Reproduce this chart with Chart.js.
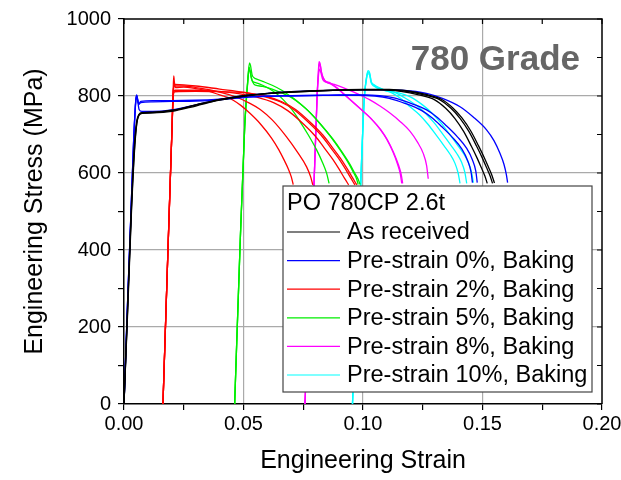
<!DOCTYPE html>
<html>
<head>
<meta charset="utf-8">
<script src="https://cdn.jsdelivr.net/npm/chart.js@4/dist/chart.umd.min.js"></script>
<style>
  body { margin: 0; background: #fff; }
  #wrap { width: 621px; height: 480px; }
</style>
</head>
<body>
<div id="wrap"><canvas id="chart-stress" width="621" height="480"></canvas></div>
<script>
// axis ranges
const strainMin = 0, strainMax = 0.2, strainStep = 0.025;
const stressMin = 0, stressMax = 1000, stressStep = 100;

const legendTitle = 'PO 780CP 2.6t';
const gradeLabel = '780 Grade';
const seriesNames = [
  'As received',
  'Pre-strain 0%, Baking',
  'Pre-strain 2%, Baking',
  'Pre-strain 5%, Baking',
  'Pre-strain 8%, Baking',
  'Pre-strain 10%, Baking'
];

// [strain, stress MPa]
const asReceived1 = [[0,0],[0.0015,250],[0.003,500],[0.0042,660],[0.0052,730],[0.0062,752],[0.0075,757],[0.012,757],[0.02,762],[0.03,776],[0.04,790],[0.05,800],[0.06,806],[0.07,810],[0.08,813],[0.09,815],[0.10,816],[0.108,816],[0.1158,812],[0.1233,803],[0.13,790],[0.1346,768],[0.1384,742],[0.1421,708],[0.1453,670],[0.1478,638],[0.1495,614],[0.151,592],[0.152,573]];
const asReceived2 = [[0,0],[0.0015,245],[0.003,490],[0.0043,655],[0.0053,728],[0.0063,750],[0.0078,755],[0.012,756],[0.02,760],[0.03,774],[0.04,789],[0.05,799],[0.06,806],[0.07,810],[0.08,813],[0.09,815],[0.10,816],[0.11,816],[0.118,812],[0.1255,803],[0.1322,790],[0.1368,768],[0.1406,742],[0.1443,708],[0.1475,670],[0.15,638],[0.1517,614],[0.1532,592],[0.1542,573]];
const asReceived3 = [[0,0],[0.0016,250],[0.0031,495],[0.0044,658],[0.0054,730],[0.0064,752],[0.008,757],[0.012,758],[0.02,763],[0.03,777],[0.04,791],[0.05,801],[0.06,807],[0.07,811],[0.08,814],[0.09,816],[0.10,817],[0.111,817],[0.1188,813],[0.1263,804],[0.133,791],[0.1376,769],[0.1414,743],[0.1451,709],[0.1483,671],[0.1508,639],[0.1525,615],[0.154,593],[0.155,574]];

const baked0a = [[0,0],[0.0014,250],[0.0028,480],[0.004,680],[0.0048,780],[0.0052,802],[0.0056,795],[0.0061,778],[0.007,783],[0.012,785],[0.02,786],[0.03,787],[0.04,790],[0.05,796],[0.06,799],[0.07,800],[0.08,801],[0.09,802],[0.098,802],[0.105,800],[0.111,794],[0.1175,781],[0.1246,762],[0.129,743],[0.133,720],[0.1375,692],[0.1414,662],[0.1438,632],[0.1452,603],[0.1458,575]];
const baked0b = [[0,0],[0.0014,248],[0.0028,478],[0.004,678],[0.0049,785],[0.0053,800],[0.0057,790],[0.0062,780],[0.007,786],[0.012,788],[0.02,788],[0.03,789],[0.04,792],[0.05,797],[0.06,800],[0.07,801],[0.08,802],[0.09,803],[0.10,803],[0.107,801],[0.113,795],[0.1195,782],[0.1266,764],[0.131,745],[0.135,722],[0.1395,694],[0.1434,664],[0.1458,634],[0.1472,605],[0.1478,575]];
const baked0c = [[0,0],[0.0014,245],[0.0028,475],[0.004,675],[0.0048,775],[0.0053,803],[0.0057,790],[0.0063,765],[0.0075,760],[0.012,760],[0.02,764],[0.03,777],[0.04,791],[0.05,801],[0.06,807],[0.07,811],[0.08,814],[0.09,815],[0.10,816],[0.112,816],[0.12,813],[0.127,806],[0.1335,793],[0.1406,772],[0.146,746],[0.1517,712],[0.1548,684],[0.1573,651],[0.159,622],[0.16,595],[0.1605,575]];

const baked2a = [[0.0163,0],[0.0185,420],[0.02,700],[0.0205,800],[0.0208,852],[0.0211,835],[0.0215,822],[0.025,823],[0.03,819],[0.035,813],[0.04,803],[0.043,797],[0.0457,789],[0.049,775],[0.0527,755],[0.057,728],[0.0618,690],[0.0648,660],[0.0668,636],[0.0688,610],[0.07,590],[0.0708,570]];
const baked2b = [[0.0163,0],[0.0185,420],[0.02,700],[0.0206,815],[0.0212,826],[0.025,826],[0.03,822],[0.035,817],[0.04,810],[0.0457,800],[0.0527,781],[0.057,765],[0.062,738],[0.068,694],[0.0725,655],[0.0764,616],[0.0781,590],[0.079,569]];
const baked2c = [[0.0163,0],[0.0185,420],[0.02,700],[0.0207,820],[0.0213,830],[0.025,829],[0.03,826],[0.04,818],[0.05,810],[0.058,800],[0.0653,785],[0.071,765],[0.0778,728],[0.0825,698],[0.0862,668],[0.0898,638],[0.0925,612],[0.0948,588],[0.0966,569]];
const baked2d = [[0.0163,0],[0.0185,420],[0.02,700],[0.0207,808],[0.0212,815],[0.03,815],[0.04,812],[0.048,806],[0.0555,797],[0.0628,782],[0.0685,762],[0.0753,726],[0.08,696],[0.0837,666],[0.0873,636],[0.09,610],[0.0923,586],[0.094,569]];
const baked2e = [[0.0163,0],[0.0185,420],[0.02,700],[0.0207,805],[0.0212,811],[0.03,812],[0.04,811],[0.05,809],[0.0588,800],[0.0661,785],[0.0718,765],[0.0786,728],[0.0833,698],[0.087,668],[0.0906,638],[0.0933,612],[0.0956,588],[0.0974,569]];

const baked5a = [[0.0463,0],[0.0485,400],[0.0505,720],[0.0517,830],[0.0523,875],[0.0526,870],[0.0532,848],[0.054,837],[0.055,835],[0.058,828],[0.061,818],[0.064,805],[0.067,788],[0.0702,765],[0.0735,735],[0.077,700],[0.0806,660],[0.083,628],[0.0848,599],[0.0858,573]];
const baked5b = [[0.0463,0],[0.0485,400],[0.0505,720],[0.0517,835],[0.0525,886],[0.0529,880],[0.0536,855],[0.0545,847],[0.055,845],[0.058,838],[0.062,828],[0.066,815],[0.0695,800],[0.073,784],[0.077,762],[0.082,728],[0.0865,694],[0.0904,660],[0.0935,630],[0.0959,603],[0.0973,585],[0.098,570]];
const baked5c = [[0.0463,0],[0.0485,400],[0.0505,720],[0.0518,840],[0.0524,868],[0.0528,865],[0.0535,842],[0.0545,830],[0.055,828],[0.058,825],[0.062,818],[0.066,808],[0.0703,795],[0.0738,779],[0.0778,757],[0.0828,723],[0.0873,689],[0.0912,655],[0.0943,625],[0.0967,598],[0.0981,582],[0.0988,570]];

const baked8a = [[0.0757,0],[0.079,480],[0.0808,800],[0.0813,860],[0.0816,889],[0.082,885],[0.0827,860],[0.0838,842],[0.0862,834],[0.089,822],[0.093,800],[0.0987,768],[0.1035,740],[0.1071,714],[0.1099,688],[0.1125,655],[0.1145,622],[0.1156,598],[0.1162,573]];
const baked8b = [[0.0757,0],[0.079,480],[0.0808,800],[0.0814,865],[0.0817,884],[0.0821,880],[0.0828,856],[0.084,840],[0.0865,831],[0.0893,819],[0.0934,797],[0.099,766],[0.1039,738],[0.1075,712],[0.1103,685],[0.1129,652],[0.1149,620],[0.116,596],[0.1166,573]];
const baked8c = [[0.0757,0],[0.079,480],[0.0808,800],[0.0814,855],[0.0818,870],[0.0823,862],[0.0832,842],[0.0845,836],[0.088,830],[0.0932,818],[0.098,805],[0.1029,790],[0.1071,774],[0.111,757],[0.1155,734],[0.1197,708],[0.1228,680],[0.1252,651],[0.1266,620],[0.1273,585]];

const baked10a = [[0.0956,0],[0.0985,480],[0.1005,790],[0.1015,850],[0.1021,866],[0.1027,862],[0.1034,838],[0.1045,830],[0.108,818],[0.113,805],[0.1165,790],[0.1197,772],[0.1235,752],[0.127,728],[0.1308,697],[0.134,670],[0.1365,648],[0.1385,625],[0.1398,600],[0.1406,573]];
const baked10b = [[0.0956,0],[0.0985,480],[0.1005,790],[0.1016,852],[0.1022,862],[0.1028,858],[0.1035,836],[0.1046,828],[0.108,818],[0.113,810],[0.117,797],[0.1225,775],[0.1263,754],[0.1298,730],[0.1336,699],[0.1368,672],[0.1393,650],[0.1413,627],[0.1426,602],[0.1434,573]];
const baked10c = [[0.0956,0],[0.0985,480],[0.1005,790],[0.1015,845],[0.1021,858],[0.1027,855],[0.1034,834],[0.1045,826],[0.108,816],[0.115,808],[0.12,797],[0.1253,775],[0.1291,754],[0.1326,730],[0.1364,699],[0.1396,672],[0.1421,650],[0.1441,627],[0.1454,602],[0.1462,575]];

const seriesCurves = [
  [asReceived1, asReceived2, asReceived3],
  [baked0a, baked0b, baked0c],
  [baked2a, baked2b, baked2c, baked2d, baked2e],
  [baked5a, baked5b, baked5c],
  [baked8a, baked8b, baked8c],
  [baked10a, baked10b, baked10c]
];

const seriesColors = ['#000000', '#0000ff', '#ff0000', '#00ee00', '#ff00ff', '#00ffff'];
const FONT = "'Liberation Sans', Arial, sans-serif";

const datasets = [];
seriesCurves.forEach((curves, i) => {
  curves.forEach(c => {
    datasets.push({
      label: seriesNames[i],
      data: c,
      borderColor: seriesColors[i],
      borderWidth: 1.3,
      pointRadius: 0,
      showLine: true,
      cubicInterpolationMode: 'monotone'
    });
  });
});

// top/right mirror axes with inward ticks, plus the grade label
const frame = {
  id: 'frame',
  afterDatasetsDraw(chart) {
    const {ctx, chartArea: a, scales: {x, y}} = chart;
    ctx.save();
    ctx.strokeStyle = '#000';
    ctx.lineWidth = 1.5;
    ctx.beginPath();
    ctx.moveTo(a.left, a.top); ctx.lineTo(a.right, a.top); ctx.lineTo(a.right, a.bottom);
    ctx.stroke();
    ctx.lineWidth = 1.2;
    ctx.beginPath();
    x.ticks.forEach(t => {
      const px = x.getPixelForValue(t.value);
      ctx.moveTo(px, a.top); ctx.lineTo(px, a.top + 5);
    });
    y.ticks.forEach(t => {
      const py = y.getPixelForValue(t.value);
      ctx.moveTo(a.right, py); ctx.lineTo(a.right - 5, py);
    });
    ctx.stroke();

    ctx.font = 'bold 35px ' + FONT;
    ctx.fillStyle = '#666';
    ctx.textAlign = 'right';
    ctx.textBaseline = 'alphabetic';
    ctx.fillText(gradeLabel, a.right - 22, a.top + 51);
    ctx.restore();
  }
};

const legendBox = {
  id: 'legendBox',
  afterDatasetsDraw(chart) {
    const {ctx, chartArea: a} = chart;
    const w = 309, h = 206;
    const left = a.right - 10 - w, top = a.top + 167;
    ctx.save();
    ctx.fillStyle = '#fff';
    ctx.fillRect(left, top, w, h);
    ctx.strokeStyle = '#444';
    ctx.lineWidth = 1.2;
    ctx.strokeRect(left, top, w, h);
    ctx.font = '23.5px ' + FONT;
    ctx.fillStyle = '#000';
    ctx.textBaseline = 'middle';
    ctx.fillText(legendTitle, left + 4, top + 18);
    seriesNames.forEach((name, i) => {
      const ly = top + 46 + i * 28.6;
      ctx.strokeStyle = seriesColors[i];
      ctx.lineWidth = 1.2;
      ctx.beginPath();
      ctx.moveTo(left + 4, ly); ctx.lineTo(left + 57, ly);
      ctx.stroke();
      ctx.fillText(name, left + 64, ly + 1);
    });
    ctx.restore();
  }
};

new Chart(document.getElementById('chart-stress'), {
  type: 'scatter',
  data: { datasets },
  plugins: [frame, legendBox],
  options: {
    responsive: false,
    animation: false,
    layout: { padding: { top: 19, right: 19, left: 0, bottom: 0 } },
    plugins: { legend: { display: false }, tooltip: { enabled: false } },
    scales: {
      x: {
        type: 'linear',
        min: strainMin,
        max: strainMax,
        afterFit: s => { s.height = 76; s.paddingRight = 0; s.paddingLeft = 0; },
        ticks: {
          stepSize: strainStep,
          autoSkip: false,
          maxRotation: 0,
          padding: 2,
          color: '#000',
          font: { family: FONT, size: 20 },
          callback: (v, i) => i % 2 === 0 ? v.toFixed(2) : ''
        },
        grid: {
          color: c => (c.index % 2 === 0 && c.index > 0 && c.index < 8) ? '#aaaaaa' : 'rgba(0,0,0,0)',
          tickColor: '#000',
          tickLength: 6,
          lineWidth: 1.2
        },
        border: { color: '#000', width: 1.5 },
        title: { display: true, text: 'Engineering Strain', color: '#000', font: { family: FONT, size: 25 }, padding: { bottom: 4, top: 0 } }
      },
      y: {
        type: 'linear',
        min: stressMin,
        max: stressMax,
        afterFit: s => { s.width = 124; s.paddingTop = 0; s.paddingBottom = 0; },
        ticks: {
          stepSize: stressStep,
          autoSkip: false,
          padding: 7,
          color: '#000',
          font: { family: FONT, size: 20 },
          callback: (v, i) => i % 2 === 0 ? String(v) : ''
        },
        grid: {
          color: c => (c.index % 2 === 0 && c.index > 0 && c.index < 10) ? '#aaaaaa' : 'rgba(0,0,0,0)',
          tickColor: '#000',
          tickLength: 6,
          lineWidth: 1.2
        },
        border: { color: '#000', width: 1.5 },
        title: { display: true, text: 'Engineering Stress (MPa)', color: '#000', font: { family: FONT, size: 25 }, padding: { top: 20, bottom: 0 } }
      }
    }
  }
});
</script>
</body>
</html>
